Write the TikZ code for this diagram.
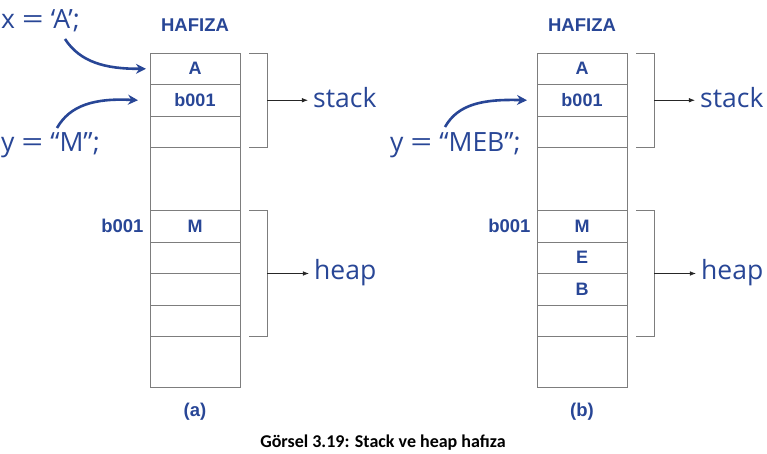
\documentclass[tikz,border=0pt]{standalone}
\usepackage{fontspec}
\usetikzlibrary{positioning,arrows.meta}
\newfontfamily\codefont{Open Sans}
\newfontfamily\memfont{Liberation Sans}
\newfontfamily\capfont{Carlito}
\definecolor{memblue}{RGB}{40,70,150}
\definecolor{linegray}{RGB}{125,125,125}
\newcommand{\eqsign}{\scalebox{1.45}[1]{=}}

\begin{document}
\begin{tikzpicture}[
		x=1pt, y=-1pt,
		>=Latex,
		cell/.style={draw=linegray, line width=0.8pt, minimum width=90pt, minimum height=31.5pt,
			inner sep=0pt, outer sep=0pt, text=memblue, font=\memfont\bfseries\fontsize{18}{18}\selectfont},
		memlabel/.style={text=memblue, font=\memfont\bfseries\fontsize{18.5}{18.5}\selectfont},
		code/.style={anchor=base west, inner sep=0pt, text=memblue, font=\codefont\fontsize{26.5}{26.5}\selectfont},
		bracket/.style={linegray, line width=0.8pt},
		point/.style={->, black!85, line width=0.7pt, shorten >=5pt},
		ptr/.style={memblue, line width=2.6pt, -{Stealth[length=10pt, width=10pt]}},
	]
	\useasboundingbox (0,0) rectangle (767,454);

	% (a)
	\node[memlabel] (ahafiza) at (195,25) {HAFIZA};
	\node[cell] (a1) at (195,68.75) {A};
	\node[cell, below=0pt of a1] (a2) {b001};
	\node[cell, below=0pt of a2] (a3) {};
	\node[cell, below=0pt of a3, minimum height=63pt] (a4) {};
	\node[cell, below=0pt of a4] (a5) {M};
	\node[cell, below=0pt of a5] (a6) {};
	\node[cell, below=0pt of a6] (a7) {};
	\node[cell, below=0pt of a7] (a8) {};
	\node[cell, below=0pt of a8, minimum height=51pt] (a9) {};
	\node[memlabel, left=3pt of a5] (aaddr) {b001};
	\node[memlabel] (acap) at (195,412) {(a)};

	\draw[bracket] ([xshift=9pt]a1.north east) -| ([xshift=27pt]a3.south east) -- ([xshift=9pt]a3.south east);
	\draw[bracket] ([xshift=9pt]a5.north east) -| ([xshift=27pt]a8.south east) -- ([xshift=9pt]a8.south east);
	\coordinate (astackmid) at ([xshift=27pt]a2.east);
	\coordinate (aheapmid) at ([xshift=27pt]a6.south east);
	\node[code] (astack) at (313,108) {stack};
	\node[code] (aheap) at (314,279) {heap};
	\draw[point] (astackmid) -- (astackmid -| astack.west);
	\draw[point] (aheapmid) -- (aheapmid -| aheap.west);

	\node[code] (xcode) at (1,28.5) {x \eqsign{} ‘A’;};
	\node[code] (ycode) at (1,152) {y \eqsign{} “M”;};
	\coordinate (xstart) at (65,39);
	\coordinate (ystart) at (57,128);
	\draw[ptr] (xstart) .. controls (80,62) and (105,69) .. ([xshift=-4pt]a1.west);
	\draw[ptr] (ystart) .. controls (70,105) and (95,98) .. ([xshift=-12pt]a2.west);

	% (b)
	\node[memlabel] (bhafiza) at (582,25) {HAFIZA};
	\node[cell] (b1) at (582,68.75) {A};
	\node[cell, below=0pt of b1] (b2) {b001};
	\node[cell, below=0pt of b2] (b3) {};
	\node[cell, below=0pt of b3, minimum height=63pt] (b4) {};
	\node[cell, below=0pt of b4] (b5) {M};
	\node[cell, below=0pt of b5] (b6) {E};
	\node[cell, below=0pt of b6] (b7) {B};
	\node[cell, below=0pt of b7] (b8) {};
	\node[cell, below=0pt of b8, minimum height=51pt] (b9) {};
	\node[memlabel, left=3pt of b5] (baddr) {b001};
	\node[memlabel] (bcap) at (582,412) {(b)};

	\draw[bracket] ([xshift=9pt]b1.north east) -| ([xshift=27pt]b3.south east) -- ([xshift=9pt]b3.south east);
	\draw[bracket] ([xshift=9pt]b5.north east) -| ([xshift=27pt]b8.south east) -- ([xshift=9pt]b8.south east);
	\coordinate (bstackmid) at ([xshift=27pt]b2.east);
	\coordinate (bheapmid) at ([xshift=27pt]b6.south east);
	\node[code] (bstack) at (700,108) {stack};
	\node[code] (bheap) at (701,279) {heap};
	\draw[point] (bstackmid) -- (bstackmid -| bstack.west);
	\draw[point] (bheapmid) -- (bheapmid -| bheap.west);

	\node[code] (ycodeb) at (390,152) {y \eqsign{} “MEB”;};
	\coordinate (ybstart) at (445,127);
	\draw[ptr] (ybstart) .. controls (458,104) and (483,99) .. ([xshift=-10pt]b2.west);

	\node[font=\capfont\bfseries\fontsize{18}{18}\selectfont] (caption) at (383,443) {Görsel 3.19: Stack ve heap hafıza};
\end{tikzpicture}
\end{document}
